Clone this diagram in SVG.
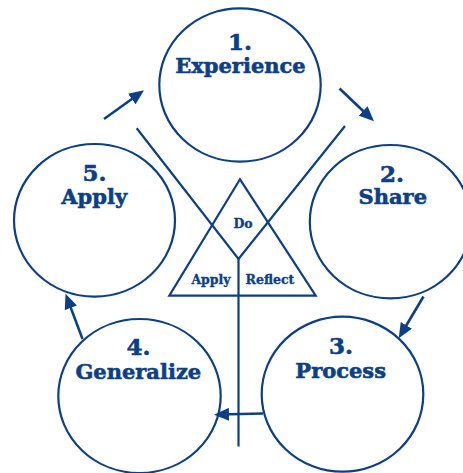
<svg xmlns="http://www.w3.org/2000/svg" width="463" height="473" viewBox="0 0 463 473">
  <style>
    .ring { fill: none; stroke: #0d3f86; stroke-width: 2.2; }
    .wire { fill: none; stroke: #0d3f86; stroke-width: 2.2; stroke-linecap: butt; }
    .flow { fill: none; stroke: #0d3f86; stroke-width: 2.6; }
    .num { font-family: "DejaVu Serif", "Liberation Serif", serif; font-weight: bold; font-size: 23px; fill: #0d3f86; stroke: #0d3f86; stroke-width: 0.6; text-anchor: middle; }
    .word { font-family: "DejaVu Serif", "Liberation Serif", serif; font-weight: bold; font-size: 21px; fill: #0d3f86; stroke: #0d3f86; stroke-width: 0.6; text-anchor: middle; }
    .small { font-family: "DejaVu Serif", "Liberation Serif", serif; font-weight: bold; font-size: 12.5px; fill: #0d3f86; stroke: #0d3f86; stroke-width: 0.35; text-anchor: middle; }
  </style>
  <defs>
    <marker id="head" markerUnits="userSpaceOnUse" markerWidth="15" markerHeight="13" refX="9.5" refY="6.5" orient="auto">
      <path d="M0,0 L15,6.5 L0,13 Z" fill="#0d3f86"/>
    </marker>
  </defs>
  <rect width="463" height="473" fill="#ffffff"/>

  <!-- centre figure: crossing lines, stem and triangle -->
  <g id="centre">
    <polyline class="wire" points="136.7,128.3 238.5,259 345,126"/>
    <line class="wire" x1="238.5" y1="259" x2="238.5" y2="446.5"/>
    <polygon class="wire" points="240,179.3 169.3,295.7 315.7,295.7"/>
    <text class="small" x="243" y="227.5">Do</text>
    <text class="small" x="211" y="284">Apply</text>
    <text class="small" x="270" y="284">Reflect</text>
  </g>

  <g id="experience">
    <ellipse class="ring" cx="240" cy="85" rx="80.7" ry="76.7"/>
    <text class="num" x="240" y="50">1.</text>
    <text class="word" x="240.5" y="72.7">Experience</text>
  </g>

  <g id="share">
    <ellipse class="ring" cx="390.5" cy="221.7" rx="80.7" ry="76.7"/>
    <text class="num" x="392" y="181.5">2.</text>
    <text class="word" x="392.8" y="204.3">Share</text>
  </g>

  <g id="process">
    <ellipse class="ring" cx="342.5" cy="394.2" rx="80.8" ry="77.5"/>
    <text class="num" x="341" y="353.5">3.</text>
    <text class="word" x="340.7" y="377.7">Process</text>
  </g>

  <g id="generalize">
    <ellipse class="ring" cx="139.5" cy="396" rx="81.2" ry="77"/>
    <text class="num" x="138.5" y="355">4.</text>
    <text class="word" x="138.3" y="379">Generalize</text>
  </g>

  <g id="apply">
    <ellipse class="ring" cx="94.5" cy="220.3" rx="80.5" ry="76.3"/>
    <text class="num" x="94.5" y="180.7">5.</text>
    <text class="word" x="94.2" y="204">Apply</text>
  </g>

  <!-- cycle arrows -->
  <g id="connectors">
    <line class="flow" x1="104" y1="119" x2="139.5" y2="93.5" marker-end="url(#head)"/>
    <line class="flow" x1="339.5" y1="88.5" x2="370" y2="117.5" marker-end="url(#head)"/>
    <line class="flow" x1="423.5" y1="296.5" x2="401.5" y2="333.5" marker-end="url(#head)"/>
    <line class="flow" x1="263" y1="413.5" x2="219.5" y2="414.5" marker-end="url(#head)"/>
    <line class="flow" x1="82.5" y1="339" x2="67.5" y2="299" marker-end="url(#head)"/>
  </g>
</svg>
